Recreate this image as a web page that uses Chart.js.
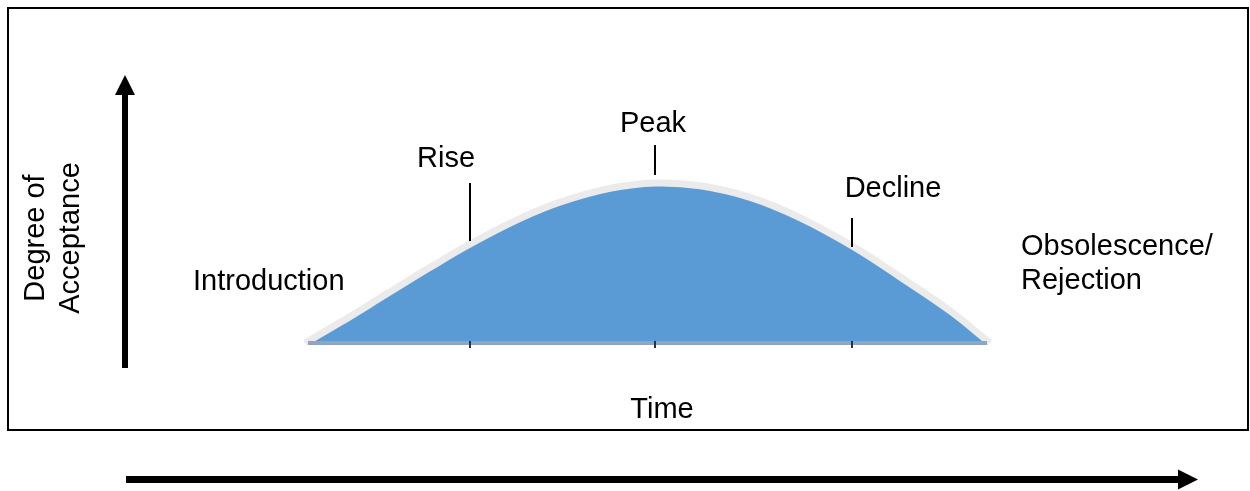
<!DOCTYPE html>
<html>
<head>
<meta charset="utf-8">
<style>
  html, body { margin: 0; padding: 0; background: #ffffff; }
  #wrap { width: 1250px; height: 491px; position: relative; }
</style>
<script src="https://cdn.jsdelivr.net/npm/chart.js@4/dist/chart.umd.min.js"></script>
</head>
<body>
<div id="wrap"><canvas id="lifecycle" width="1250" height="491"></canvas></div>
<script>
// Product life cycle: degree of acceptance over time
const timeValues       = [0, 5.1, 12, 18.2, 24.1, 31.4, 37.2, 44.5, 51.1, 57.7, 65, 72.3, 79.9, 86.9, 94.2, 100];
const acceptanceValues = [0, 10.2, 24.7, 37.7, 49.5, 62.3, 70.4, 77.3, 80, 78.6, 72.8, 62.6, 48.5, 33, 16, 0];

// Stage markers along the curve (index into the series above)
const markerStages  = ['Rise', 'Peak', 'Decline'];
const markerIndices = [4, 8, 12];

const FONT = '"Liberation Sans", Arial, sans-serif';

function arrowUp(ctx, x, yTop, yBottom) {
  ctx.fillStyle = '#000';
  ctx.fillRect(x - 3, yTop + 18, 6, yBottom - yTop - 18);
  ctx.beginPath();
  ctx.moveTo(x, yTop);
  ctx.lineTo(x + 10, yTop + 20);
  ctx.lineTo(x - 10, yTop + 20);
  ctx.closePath();
  ctx.fill();
}
function arrowRight(ctx, xLeft, xTip, y) {
  ctx.fillStyle = '#000';
  ctx.fillRect(xLeft, y - 3.5, xTip - xLeft - 19, 7);
  ctx.beginPath();
  ctx.moveTo(xTip, y);
  ctx.lineTo(xTip - 20, y - 10);
  ctx.lineTo(xTip - 20, y + 10);
  ctx.closePath();
  ctx.fill();
}

const decorations = {
  id: 'decorations',
  beforeDraw(chart) {
    const ctx = chart.ctx;
    ctx.save();
    ctx.fillStyle = '#fff';
    ctx.fillRect(0, 0, chart.width, chart.height);
    ctx.restore();
  },
  afterDatasetsDraw(chart) {
    const ctx = chart.ctx;
    const xs = chart.scales.x, ys = chart.scales.y;
    const meta = chart.getDatasetMeta(0);
    const y0 = ys.getPixelForValue(0);
    const xStart = xs.getPixelForValue(timeValues[0]);
    const xEnd = xs.getPixelForValue(timeValues[timeValues.length - 1]);
    ctx.save();

    // baseline band
    ctx.fillStyle = '#90a5bf';
    ctx.fillRect(xStart + 3, y0 - 2, xEnd - xStart - 6, 4);

    // stage ticks on the baseline and marker lines above the curve
    const lineSpec = { Rise: [0, 58], Peak: [5, 30], Decline: [-4, 29] };
    markerIndices.forEach((idx, k) => {
      const px = Math.round(xs.getPixelForValue(timeValues[idx]));
      ctx.fillStyle = '#1f3550';
      ctx.fillRect(px - 1, y0 - 2, 2, 7);
      const pt = meta.data[idx];
      const [gap, len] = lineSpec[markerStages[k]];
      const bottom = pt.y - 3 - gap;
      ctx.fillStyle = '#000';
      ctx.fillRect(px - 1, bottom - len, 2, len);
    });

    // text labels
    ctx.fillStyle = '#000';
    ctx.font = '29px ' + FONT;
    ctx.textBaseline = 'alphabetic';
    ctx.textAlign = 'center';
    ctx.fillText('Rise', 446, 167);
    ctx.fillText('Peak', 653, 132);
    ctx.fillText('Decline', 893, 197);
    ctx.fillText('Time', 662, 418);
    ctx.textAlign = 'left';
    ctx.fillText('Introduction', 193, 290);
    ctx.fillText('Obsolescence/', 1021, 255);
    ctx.fillText('Rejection', 1021, 289);

    // rotated y title
    ctx.save();
    ctx.translate(0, 238);
    ctx.rotate(-Math.PI / 2);
    ctx.textAlign = 'center';
    ctx.fillText('Degree of', 0, 44);
    ctx.fillText('Acceptance', 0, 79);
    ctx.restore();

    // frame
    ctx.strokeStyle = '#000';
    ctx.lineWidth = 2;
    ctx.strokeRect(8, 8, 1240, 422);

    // axis arrows
    arrowUp(ctx, 125, 75, 368);
    arrowRight(ctx, 126, 1198, 479.5);

    ctx.restore();
  }
};

new Chart(document.getElementById('lifecycle'), {
  type: 'line',
  data: {
    labels: timeValues,
    datasets: [{
      data: timeValues.map((t, i) => ({ x: t, y: acceptanceValues[i] })),
      backgroundColor: '#5b9bd5',
      borderColor: '#ebebeb',
      borderWidth: 7,
      fill: 'origin',
      tension: 0.4,
      pointRadius: 0,
      clip: false
    }]
  },
  options: {
    responsive: false,
    animation: false,
    devicePixelRatio: 1,
    layout: { padding: { left: 305, right: 260, top: 143, bottom: 148 } },
    plugins: { legend: { display: false }, tooltip: { enabled: false } },
    scales: {
      x: { type: 'linear', min: 0, max: 100, display: false },
      y: { type: 'linear', min: 0, max: 100, display: false }
    }
  },
  plugins: [decorations]
});
</script>
</body>
</html>
